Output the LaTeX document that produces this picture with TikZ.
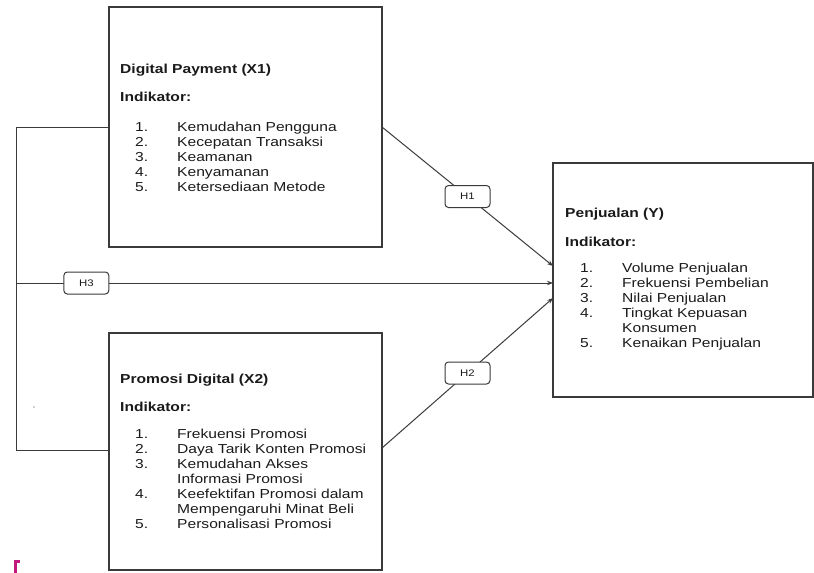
\documentclass[tikz,border=0pt]{standalone}
\usepackage{fontspec}
\setmainfont[FakeStretch=1.2]{Liberation Sans}
\usetikzlibrary{arrows.meta}
\definecolor{ln}{HTML}{3A3A3A}
\definecolor{tx}{HTML}{1A1A1A}
\definecolor{mag}{HTML}{C2187E}
\begin{document}
\begin{tikzpicture}[x=1pt,y=-1pt,
 box/.style={draw=ln,line width=1.3pt,inner sep=0pt,outer sep=0pt,anchor=north west},
 conn/.style={draw=ln,line width=1pt},
 arr/.style={conn,-{Stealth[length=6pt,width=4.5pt]}},
 hbox/.style={draw=ln,line width=1pt,fill=white,rounded corners=3.5pt,minimum width=45pt,minimum height=22pt,inner sep=0pt,font=\fontsize{9.5}{11}\selectfont,text=tx},
 txt/.style={anchor=base west,inner sep=0pt,text=tx,font=\fontsize{13}{15}\selectfont},
 ttl/.style={txt,font=\fontsize{13}{15}\selectfont\bfseries}]
\useasboundingbox (0,0) rectangle (814,573);

% boxes
\node[box,minimum width=273pt,minimum height=240pt] (x1) at (109,7) {};
\node[box,minimum width=273pt,minimum height=237pt] (x2) at (109,333) {};
\node[box,minimum width=260pt,minimum height=234pt] (y) at (553,163) {};

% connection points
\coordinate (x1p) at (109,127);
\coordinate (x2p) at (109,450);
\coordinate (jt) at (16,127);
\coordinate (jb) at (16,450);
\coordinate (jm) at (16,283);
\coordinate (x1o) at (382,127);
\coordinate (x2o) at (382,448);
\coordinate (ya) at (553,266);
\coordinate (yb) at (553,283);
\coordinate (yc) at (553,298);

% connectors
\draw[conn] (x1p) -- (jt) -- (jb) -- (x2p);
\draw[arr] (x1o) -- node[hbox] (h1) {H1} (ya);
\draw[arr] (x2o) -- node[hbox] (h2) {H2} (yc);
\draw[arr] (jm) -- node[hbox,pos=0.131] (h3) {H3} (yb);

% X1 text
\node[ttl] (a0) at (120,73.5) {Digital Payment (X1)};
\node[ttl] (a1) at (120,101.5) {Indikator:};
\node[txt] (an1) at (135,131.5) {1.};
\node[txt] (at1) at (177,131.5) {Kemudahan Pengguna};
\node[txt] (an2) at (135,146.5) {2.};
\node[txt] (at2) at (177,146.5) {Kecepatan Transaksi};
\node[txt] (an3) at (135,161.5) {3.};
\node[txt] (at3) at (177,161.5) {Keamanan};
\node[txt] (an4) at (135,176.5) {4.};
\node[txt] (at4) at (177,176.5) {Kenyamanan};
\node[txt] (an5) at (135,191.5) {5.};
\node[txt] (at5) at (177,191.5) {Ketersediaan Metode};

% X2 text
\node[ttl] (b0) at (120,383.5) {Promosi Digital (X2)};
\node[ttl] (b1) at (120,411.5) {Indikator:};
\node[txt] (bn1) at (135,438.5) {1.};
\node[txt] (bt1) at (177,438.5) {Frekuensi Promosi};
\node[txt] (bn2) at (135,453.5) {2.};
\node[txt] (bt2) at (177,453.5) {Daya Tarik Konten Promosi};
\node[txt] (bn3) at (135,468.5) {3.};
\node[txt] (bt3) at (177,468.5) {Kemudahan Akses};
\node[txt] (bt3b) at (177,483.5) {Informasi Promosi};
\node[txt] (bn4) at (135,498.5) {4.};
\node[txt] (bt4) at (177,498.5) {Keefektifan Promosi dalam};
\node[txt] (bt4b) at (177,513.5) {Mempengaruhi Minat Beli};
\node[txt] (bn5) at (135,528.5) {5.};
\node[txt] (bt5) at (177,528.5) {Personalisasi Promosi};

% Y text
\node[ttl] (c0) at (565,217.5) {Penjualan (Y)};
\node[ttl] (c1) at (565,246) {Indikator:};
\node[txt] (cn1) at (580,272.5) {1.};
\node[txt] (ct1) at (622,272.5) {Volume Penjualan};
\node[txt] (cn2) at (580,287.5) {2.};
\node[txt] (ct2) at (622,287.5) {Frekuensi Pembelian};
\node[txt] (cn3) at (580,302.5) {3.};
\node[txt] (ct3) at (622,302.5) {Nilai Penjualan};
\node[txt] (cn4) at (580,317.5) {4.};
\node[txt] (ct4) at (622,317.5) {Tingkat Kepuasan};
\node[txt] (ct4b) at (622,332.5) {Konsumen};
\node[txt] (cn5) at (580,347.5) {5.};
\node[txt] (ct5) at (622,347.5) {Kenaikan Penjualan};

% small marks
\fill[ln] (34,407) circle (0.6pt);
\fill[mag] (14,560) rectangle (19.5,563);
\fill[mag] (14,560) rectangle (16.5,573);
\end{tikzpicture}
\end{document}
